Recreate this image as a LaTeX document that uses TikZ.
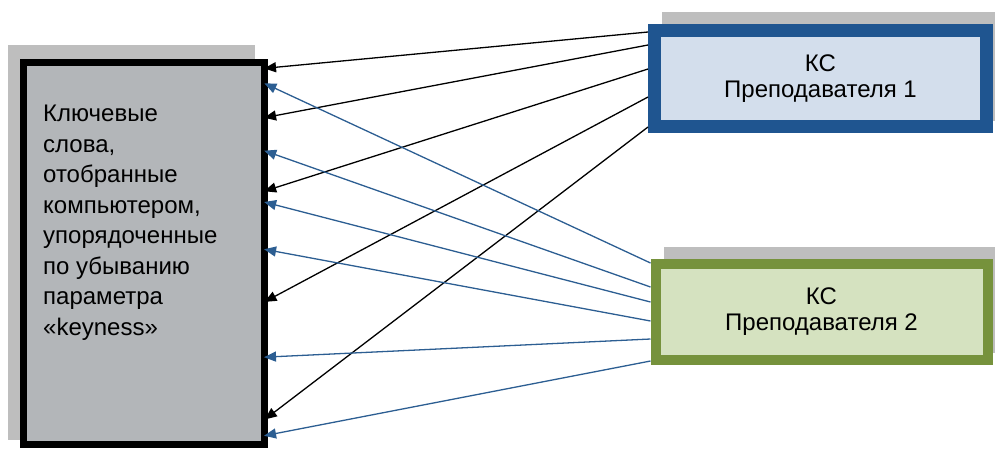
\documentclass[tikz,border=0pt]{standalone}
\usepackage{fontspec}
\setmainfont{Liberation Sans}
\usepackage{xcolor}
\usetikzlibrary{arrows.meta, backgrounds}
\definecolor{KeyGray}{HTML}{B3B6B9}
\definecolor{ShadowGray}{HTML}{BEBEBE}
\definecolor{TeacherBlue}{HTML}{1F5590}
\definecolor{TeacherBlueFill}{HTML}{D3DEEC}
\definecolor{TeacherGreen}{HTML}{76923C}
\definecolor{TeacherGreenFill}{HTML}{D5E2C0}
\definecolor{ArrowBlue}{HTML}{2C5E92}

\begin{document}
\begin{tikzpicture}[x=1pt, y=-1pt]
    \tikzstyle{keybox} = [rectangle, minimum width=241pt, minimum height=382pt, inner sep=0pt, draw=black, line width=7pt, fill=KeyGray]
    \tikzstyle{teacher} = [rectangle, minimum width=332pt, minimum height=96pt, inner sep=0pt, align=center, font=\fontsize{24}{26}\selectfont]
    \tikzstyle{teacher1} = [teacher, draw=TeacherBlue, line width=13pt, fill=TeacherBlueFill]
    \tikzstyle{teacher2} = [teacher, draw=TeacherGreen, line width=10pt, fill=TeacherGreenFill]
    \tikzstyle{backdrop} = [fill=ShadowGray]
    \tikzstyle{karrow} = [line width=1.3pt, -{Triangle[length=12pt, width=10pt]}, shorten >=-4pt]
    \tikzstyle{barrow} = [karrow, color=ArrowBlue]

    \useasboundingbox (0,0) rectangle (995,448);

    \node (kw) [keybox] at (144,253.5) {};
    \node (kwtext) [anchor=north west, align=left, inner sep=0pt, font=\fontsize{24}{30.5}\selectfont] at (43,105)
        {Ключевые\\слова,\\отобранные\\компьютером,\\упорядоченные\\по убыванию\\параметра\\«keyness»};
    \node (t1) [teacher1] at (820.5,78.5) {КС\\Преподавателя 1};
    \node (t2) [teacher2] at (821.5,312) {КС\\Преподавателя 2};

    % grey blocks behind the boxes
    \begin{scope}[on background layer]
        \fill [backdrop] ([shift={(-12,-14)}]kw.north west) rectangle ([shift={(-13,-8)}]kw.south east);
        \fill [backdrop] ([shift={(14,-12)}]t1.north west) rectangle ([shift={(14,-12)}]t1.south east);
        \fill [backdrop] ([shift={(13,-12)}]t2.north west) rectangle ([shift={(13,-12)}]t2.south east);
    \end{scope}

    % keywords of teacher 1
    \foreach \a/\b in {32/68, 45/117, 69/190, 97/300, 127/417}
        \draw [karrow] (t1.west |- 0,\a) -- (kw.east |- 0,\b);
    % keywords of teacher 2
    \foreach \a/\b in {263/85, 287/152, 302/203, 321/250, 339/357, 361/435}
        \draw [barrow] (t2.west |- 0,\a) -- (kw.east |- 0,\b);

\end{tikzpicture}
\end{document}
